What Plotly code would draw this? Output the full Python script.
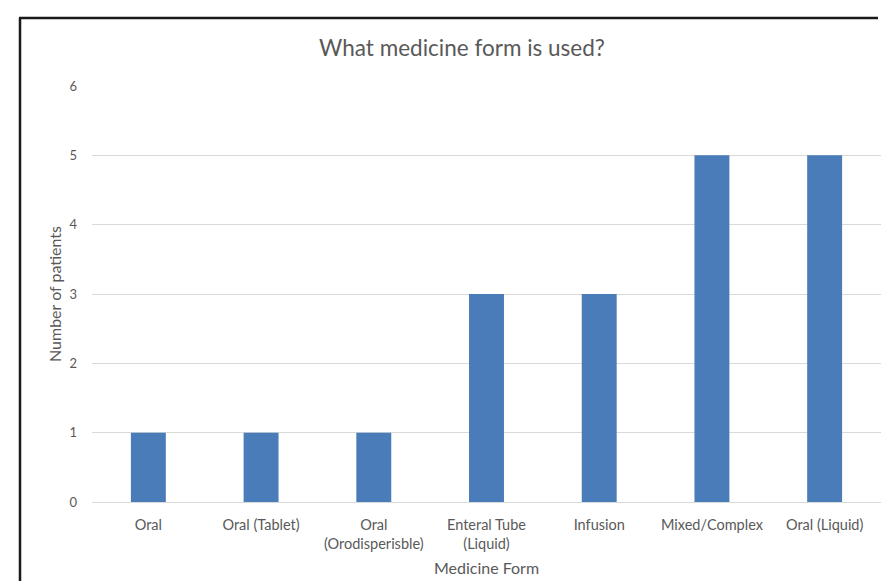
import plotly.graph_objects as go

categories = ["Oral", "Oral (Tablet)", "Oral<br>(Orodisperisble)", "Enteral Tube<br>(Liquid)",
              "Infusion", "Mixed/Complex", "Oral (Liquid)"]
patients = [1, 1, 1, 3, 3, 5, 5]
y_ticks = [0, 1, 2, 3, 4, 5, 6]

W, H = 881, 581
L, R, T, B = 92, 0, 86, 79
pw, ph = W - L - R, H - T - B

def px(x):
    return (x - L) / pw

def py(y):
    return (H - B - y) / ph

FONT = "Lato"
GREY = "#595959"

fig = go.Figure(go.Bar(x=categories, y=patients, marker=dict(color="#4a7cb9", line=dict(width=0))))

fig.update_layout(
    width=W, height=H,
    margin=dict(l=L, r=R, t=T, b=B),
    paper_bgcolor="white", plot_bgcolor="white",
    bargap=0.69,
    showlegend=False,
    font=dict(family=FONT, color=GREY),
    title=dict(text="What medicine form is used?", xref="container", x=462 / W, xanchor="center",
               yref="container", y=1 - 48 / H, yanchor="middle",
               font=dict(size=22.5, color=GREY, family=FONT)),
    xaxis=dict(showgrid=False, showline=True, linecolor="#d9d9d9", linewidth=1,
               ticks="", tickfont=dict(size=14.5, color=GREY), ticklabelstandoff=10,
               title=dict(text="Medicine Form", font=dict(size=16, color=GREY), standoff=11)),
    yaxis=dict(range=[0, 6], tickvals=y_ticks, showgrid=True, gridcolor="#d9d9d9",
               zeroline=False, ticks="", tickfont=dict(size=13, color=GREY),
               ticklabelstandoff=14,
               title=dict(text="Number of patients", font=dict(size=16, color=GREY), standoff=3)),
    shapes=[
        dict(type="line", xref="paper", yref="paper", x0=px(20), x1=px(20), y0=py(590), y1=py(18),
             line=dict(color="#1a1a1a", width=2.5)),
        dict(type="line", xref="paper", yref="paper", x0=px(19), x1=px(878), y0=py(18), y1=py(18),
             line=dict(color="#1a1a1a", width=2.5)),
    ],
)

fig.write_html("out.html", config={"displayModeBar": False})
